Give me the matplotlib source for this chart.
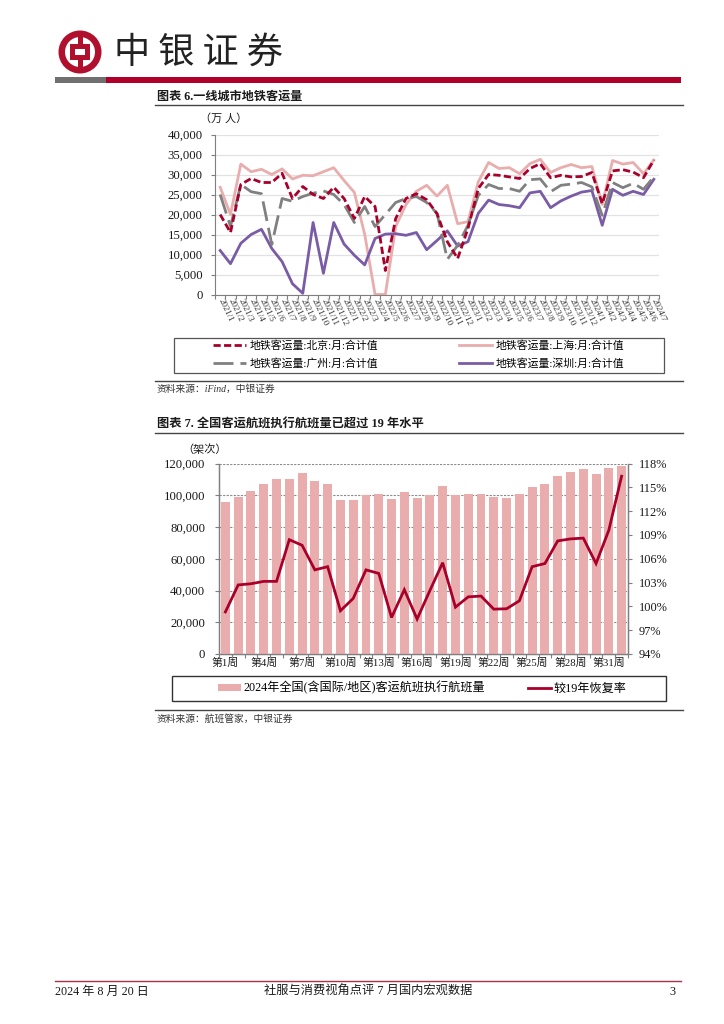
import matplotlib
matplotlib.use("Agg")
import matplotlib.pyplot as plt
from matplotlib.patches import Circle, Rectangle

plt.rcParams['font.family'] = ['Liberation Serif', 'Noto Sans CJK SC']
plt.rcParams['axes.unicode_minus'] = False

W, H = 724, 1024

months = ['2021/%d' % m for m in range(1, 13)] + ['2022/%d' % m for m in range(1, 13)] + \
         ['2023/%d' % m for m in range(1, 13)] + ['2024/%d' % m for m in range(1, 8)]
beijing = [20000, 15500, 27500, 29000, 28000, 28000, 30300, 24000, 27000, 25000, 24000, 26800,
           24000, 19000, 24500, 22000, 6000, 19000, 24000, 25200, 23700, 20200, 13200, 9000,
           16500, 26500, 30000, 29800, 29400, 29000, 31500, 32700, 29200, 29800, 29400, 29500,
           30500, 22700, 30900, 31200, 30600, 29200, 33600]
shanghai = [26800, 20000, 32600, 30700, 31300, 30000, 31400, 28900, 29800, 29700, 30700, 31700,
            28500, 25500, 15000, 0, 0, 17000, 22500, 25800, 27300, 24600, 27300, 17700,
            18200, 28200, 33000, 31500, 31700, 30200, 32700, 33800, 30500, 31700, 32500, 31700,
            32000, 22500, 33500, 32600, 33000, 30200, 33600]
guangzhou = [25000, 17000, 27500, 25700, 25200, 12500, 24000, 23300, 24500, 25300, 25900, 25000,
             22500, 18000, 22000, 17000, 20000, 23000, 24000, 24500, 23000, 20300, 8800, 12300,
             17300, 24800, 27500, 26500, 26500, 25800, 28700, 28900, 25700, 27300, 27600, 28000,
             26900, 19800, 28000, 26700, 27800, 26300, 29400]
shenzhen = [11000, 7700, 12800, 15000, 16300, 11500, 8200, 2700, 300, 18000, 5300, 18000,
            12600, 9800, 7400, 14000, 15100, 15200, 14800, 15500, 11200, 13500, 15900, 12100,
            13200, 20300, 23600, 22500, 22200, 21700, 25400, 25800, 21700, 23400, 24600, 25600,
            26000, 17300, 26300, 24800, 25800, 25000, 28800]
y1_ticks = [0, 5000, 10000, 15000, 20000, 25000, 30000, 35000, 40000]

weeks = ['第%d周' % w for w in range(1, 33)]
flights = [96000, 98800, 102400, 106800, 110100, 110000, 114100, 108900, 106800, 97300, 97300,
           100300, 100700, 97500, 102000, 98200, 100300, 105600, 100000, 100500, 100700, 98800,
           98000, 101000, 105300, 107400, 112200, 114700, 116400, 113700, 117000, 118300]
recovery = [99.3, 102.7, 102.85, 103.15, 103.15, 108.4, 107.7, 104.6, 105.0, 99.45, 101.0, 104.6,
            104.15, 98.6, 102.1, 98.4, 102.0, 105.5, 99.9, 101.2, 101.3, 99.65, 99.7, 100.7,
            105.0, 105.4, 108.25, 108.5, 108.6, 105.4, 109.6, 116.4]
y2_ticks = [0, 20000, 40000, 60000, 80000, 100000, 120000]
y2r_ticks = [94, 97, 100, 103, 106, 109, 112, 115, 118]

RED = '#A8002A'
PINK = '#E9ADAD'
GRAY = '#808080'
PURPLE = '#7A5CA6'
AX = '#7F7F7F'
TXT = '#1a1a1a'

fig = plt.figure(figsize=(W / 100, H / 100), dpi=100, facecolor='white')


def axes_px(l, t, r, b):
    return fig.add_axes([l / W, 1 - b / H, (r - l) / W, (b - t) / H])


# page furniture
pg = fig.add_axes([0, 0, 1, 1], zorder=0)
pg.set_xlim(0, W)
pg.set_ylim(H, 0)
pg.axis('off')
pg.add_patch(Rectangle((55, 77), 51, 6, fc='#707070', ec='none'))
pg.add_patch(Rectangle((106, 77), 575, 6, fc='#B0002A', ec='none'))
pg.add_patch(Circle((80, 52), 21.5, fc='#B0102E', ec='none'))
pg.add_patch(Circle((80, 52), 15, fc='white', ec='none'))
pg.add_patch(Rectangle((77.5, 31), 5, 42, fc='#B0102E', ec='none'))
pg.add_patch(Rectangle((70, 44), 20, 16, fc='#B0102E', ec='none'))
pg.add_patch(Rectangle((75, 49), 10, 6, fc='white', ec='none'))
pg.text(198, 52.5, '中 银 证 券', fontsize=26, color='#222222', ha='center', va='center',
        family=['Noto Sans CJK SC'])

for y in (105, 380.5, 433, 710):
    pg.plot([155, 683], [y, y], color='#444444', lw=1.0)
pg.plot([55, 681], [981, 981], color='#A8304A', lw=1.0)

pg.text(157, 100, '图表 6.一线城市地铁客运量', fontsize=8.7, fontweight='bold', color=TXT, va='baseline')
pg.text(157, 428, '图表 7. 全国客运航班执行航班量已超过 19 年水平', fontsize=8.8, fontweight='bold', color=TXT, va='baseline')
pg.text(157, 391.5, '资料来源：iFind，中银证券', fontsize=7.0, style='italic', color='#333333', va='baseline')
pg.text(157, 721.5, '资料来源：航班管家，中银证券', fontsize=7.0, style='italic', color='#333333', va='baseline')
pg.text(55, 995, '2024 年 8 月 20 日', fontsize=8.7, color=TXT, va='baseline')
pg.text(368.5, 995, '社服与消费视角点评 7 月国内宏观数据', fontsize=8.8, color=TXT, va='baseline', ha='center')
pg.text(672, 995, '3', fontsize=8.8, color=TXT, va='baseline', ha='center')
pg.text(224, 119, '（万 人）', fontsize=8, color=TXT, va='center', ha='center')
pg.text(205, 450, '（架次）', fontsize=8, color=TXT, va='center', ha='center')
pg.add_patch(Rectangle((173.5, 337.5), 490, 35, fc='none', ec='#555555', lw=0.9))
pg.add_patch(Rectangle((172, 675.5), 494, 25.5, fc='none', ec='#333333', lw=1.0))

# chart 1
ax1 = axes_px(215, 134.5, 659, 294.5)
ax1.patch.set_alpha(0)
x1 = list(range(len(months)))
l_sh, = ax1.plot(x1, shanghai, color=PINK, lw=2.0, label='地铁客运量:上海:月:合计值', clip_on=False)
l_sz, = ax1.plot(x1, shenzhen, color=PURPLE, lw=2.0, label='地铁客运量:深圳:月:合计值', clip_on=False)
l_gz, = ax1.plot(x1, guangzhou, color=GRAY, lw=2.0, ls=(0, (7.2, 2.5)), label='地铁客运量:广州:月:合计值', clip_on=False)
l_bj, = ax1.plot(x1, beijing, color=RED, lw=2.0, ls=(0, (2.6, 1.2)), label='地铁客运量:北京:月:合计值', clip_on=False)
ax1.set_xlim(-0.5, len(months) - 0.5)
ax1.set_ylim(0, 40000)
ax1.set_yticks(y1_ticks)
ax1.set_yticklabels(['{:,}'.format(v) for v in y1_ticks], fontsize=9.2, color=TXT)
ax1.grid(axis='y', color='#E2E2E2', lw=0.9)
ax1.set_axisbelow(True)
ax1.set_xticks([i - 0.5 for i in x1] + [len(months) - 0.5], minor=True)
ax1.set_xticks(x1)
ax1.set_xticklabels(months, rotation=-65, rotation_mode='anchor', ha='left', va='center',
                    fontsize=6.5, color='#333333')
ax1.tick_params(axis='x', which='major', length=0, pad=3)
ax1.tick_params(axis='x', which='minor', length=3, color=AX, width=0.8, direction='out')
ax1.tick_params(axis='y', length=3, color=AX, width=0.8, pad=6)
for s in ('top', 'right'):
    ax1.spines[s].set_visible(False)
for s in ('left', 'bottom'):
    ax1.spines[s].set_color(AX)
    ax1.spines[s].set_linewidth(0.8)

leg1 = fig.legend(handles=[l_bj, l_gz, l_sh, l_sz], ncol=2, frameon=False, fontsize=7.8,
                  loc='center', bbox_to_anchor=(418.5 / W, 1 - 354.5 / H),
                  handlelength=3.05, handletextpad=0.33, columnspacing=7.4, labelspacing=0.7)

# chart 2
ax2 = axes_px(219, 463.5, 628, 654)
ax2.patch.set_alpha(0)
x2 = list(range(len(weeks)))
bars = ax2.bar(x2, flights, width=0.7, color=PINK, zorder=3, label='2024年全国(含国际/地区)客运航班执行航班量')
ax2.set_xlim(-0.5, len(weeks) - 0.5)
ax2.set_ylim(0, 120000)
ax2.set_yticks(y2_ticks)
ax2.set_yticklabels(['{:,}'.format(v) for v in y2_ticks], fontsize=9.2, color=TXT)
ax2.grid(axis='y', color='#8A8A8A', lw=0.8, ls=(0, (2, 1.2)), zorder=0)
ax2.set_axisbelow(True)
ax2.set_xticks([i - 0.5 for i in x2] + [len(weeks) - 0.5], minor=True)
ax2.set_xticks(x2[::3])
ax2.set_xticklabels(weeks[::3], fontsize=7.8, color=TXT)
ax2.tick_params(axis='x', which='major', length=0, pad=3)
ax2.tick_params(axis='x', which='minor', length=3, color=AX, width=0.8)
ax2.tick_params(axis='y', length=3, color=AX, width=0.8, pad=7)
ax2.spines['top'].set_visible(False)
for s in ('left', 'bottom', 'right'):
    ax2.spines[s].set_color(AX)
    ax2.spines[s].set_linewidth(0.9)

ax2r = ax2.twinx()
ax2r.patch.set_alpha(0)
l_rec, = ax2r.plot(x2, recovery, color=RED, lw=2.0, solid_joinstyle='miter', label='较19年恢复率', zorder=5)
ax2r.set_ylim(94, 118)
ax2r.set_yticks(y2r_ticks)
ax2r.set_yticklabels(['%d%%' % v for v in y2r_ticks], fontsize=8.9, color=TXT)
ax2r.tick_params(axis='y', length=3, color=AX, width=0.8, pad=5)
ax2r.spines['top'].set_visible(False)
for s in ('left', 'bottom', 'right'):
    ax2r.spines[s].set_color(AX)
    ax2r.spines[s].set_linewidth(0.9)

leg2 = fig.legend(handles=[bars, l_rec], ncol=2, frameon=False, fontsize=8.7,
                  loc='center', bbox_to_anchor=(422 / W, 1 - 688 / H),
                  handlelength=1.9, handleheight=0.6, handletextpad=0.2, columnspacing=3.6)

fig.savefig('out.png', dpi=100)
